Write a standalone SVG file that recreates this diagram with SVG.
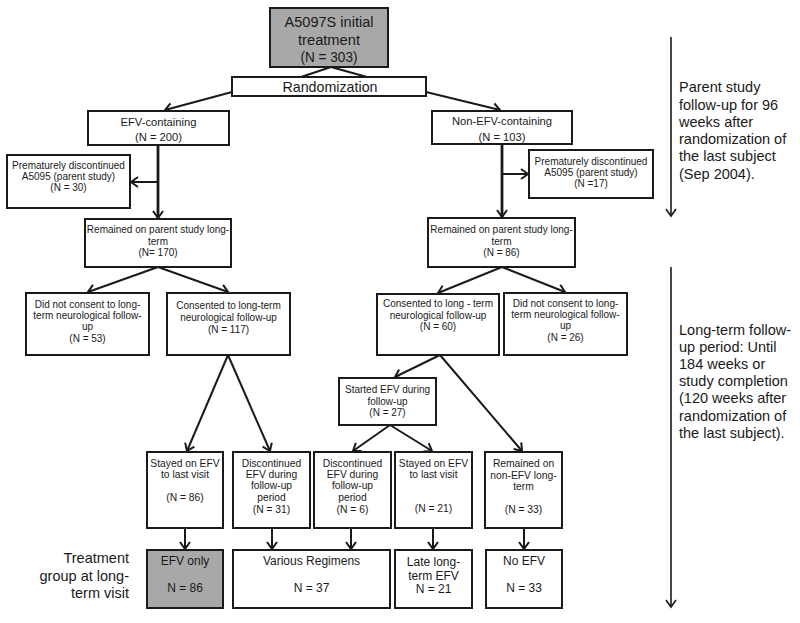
<svg xmlns="http://www.w3.org/2000/svg" width="800" height="623" viewBox="0 0 800 623">
<style>
.box{fill:#fff;stroke:#1a1a1a;stroke-width:2}
.gray{fill:#a8a8a8;stroke:#1a1a1a;stroke-width:2}
text{font-family:"Liberation Sans",Arial,sans-serif;fill:#1a1a1a;text-anchor:middle}
.t10{font-size:10px}
.t105{font-size:10.3px}
.t11{font-size:11.2px}
.t12{font-size:12px}
.t14{font-size:15.5px}
.side{font-size:14.5px;text-anchor:start}
.lab{font-size:14.5px;text-anchor:end}
.c{fill:none;stroke:#1a1a1a;stroke-width:2}
.ct{fill:none;stroke:#1a1a1a;stroke-width:2.8}
.cs{fill:none;stroke:#1a1a1a;stroke-width:1.6}
</style>
<defs>
<marker id="ah" markerUnits="userSpaceOnUse" markerWidth="14" markerHeight="14" viewBox="-10 -7 12 14" refX="0" refY="0" orient="auto">
<path d="M-7,-5 L0,0 L-7,5" fill="none" stroke="#1a1a1a" stroke-width="2"/>
</marker>
<marker id="ahs" markerUnits="userSpaceOnUse" markerWidth="14" markerHeight="14" viewBox="-10 -7 12 14" refX="0" refY="0" orient="auto">
<path d="M-7,-5 L0,0 L-7,5" fill="none" stroke="#1a1a1a" stroke-width="1.6"/>
</marker>
</defs>

<g id="connectors">
<line class="c" x1="331" y1="67" x2="301" y2="77"/>
<line class="c" x1="331" y1="67" x2="367" y2="77"/>
<line class="c" x1="232" y1="92" x2="165" y2="110" marker-end="url(#ah)"/>
<line class="c" x1="426" y1="92" x2="500" y2="110" marker-end="url(#ah)"/>
<line class="ct" x1="158" y1="145" x2="158" y2="218" marker-end="url(#ah)"/>
<line class="c" x1="158" y1="182" x2="131" y2="182" marker-end="url(#ah)"/>
<line class="ct" x1="502" y1="144" x2="502" y2="217" marker-end="url(#ah)"/>
<line class="c" x1="502" y1="174" x2="528" y2="174" marker-end="url(#ah)"/>
<line class="c" x1="158" y1="267" x2="88" y2="292" marker-end="url(#ah)"/>
<line class="c" x1="158" y1="267" x2="228" y2="292" marker-end="url(#ah)"/>
<line class="c" x1="502" y1="267" x2="438" y2="293" marker-end="url(#ah)"/>
<line class="c" x1="502" y1="267" x2="565" y2="292" marker-end="url(#ah)"/>
<line class="c" x1="228" y1="355" x2="187" y2="451" marker-end="url(#ah)"/>
<line class="c" x1="228" y1="355" x2="270" y2="451" marker-end="url(#ah)"/>
<line class="c" x1="440" y1="355" x2="395" y2="377" marker-end="url(#ah)"/>
<line class="c" x1="440" y1="355" x2="522" y2="451" marker-end="url(#ah)"/>
<line class="c" x1="390" y1="425" x2="353" y2="451" marker-end="url(#ah)"/>
<line class="c" x1="390" y1="425" x2="432" y2="451" marker-end="url(#ah)"/>
<line class="c" x1="185" y1="528" x2="185" y2="549" marker-end="url(#ah)"/>
<line class="c" x1="272" y1="528" x2="272" y2="549" marker-end="url(#ah)"/>
<line class="c" x1="351" y1="528" x2="351" y2="549" marker-end="url(#ah)"/>
<line class="c" x1="433" y1="528" x2="433" y2="549" marker-end="url(#ah)"/>
<line class="c" x1="524" y1="528" x2="524" y2="549" marker-end="url(#ah)"/>
<line class="cs" x1="671" y1="37" x2="671" y2="216" marker-end="url(#ahs)"/>
<line class="cs" x1="671" y1="267" x2="671" y2="607" marker-end="url(#ahs)"/>
</g>

<g id="n-initial">
<rect class="gray" x="270" y="8" width="118" height="59"/>
<text class="t14" x="329" y="27" textLength="89" lengthAdjust="spacingAndGlyphs">A5097S initial</text>
<text class="t14" x="329" y="44.5" textLength="62" lengthAdjust="spacingAndGlyphs">treatment</text>
<text class="t14" x="329" y="62" textLength="57" lengthAdjust="spacingAndGlyphs">(N = 303)</text>
</g>
<g id="n-random">
<rect class="box" x="232" y="77" width="194" height="19"/>
<text x="330" y="92" style="font-size:15px" textLength="95" lengthAdjust="spacingAndGlyphs">Randomization</text>
</g>
<g id="n-efv">
<rect class="box" x="88" y="111" width="141" height="34"/>
<text class="t11" x="158.5" y="125.5">EFV-containing</text>
<text class="t11" x="158.5" y="140.5">(N = 200)</text>
</g>
<g id="n-nonefv">
<rect class="box" x="432" y="111" width="140" height="33"/>
<text class="t11" x="502" y="124.5">Non-EFV-containing</text>
<text class="t11" x="502" y="140.5">(N = 103)</text>
</g>
<g id="n-prem-left">
<rect class="box" x="7" y="155" width="123" height="53"/>
<text class="t10" x="68.5" y="168.5">Prematurely discontinued</text>
<text class="t10" x="68.5" y="179.5">A5095 (parent study)</text>
<text class="t10" x="68.5" y="190.5">(N = 30)</text>
</g>
<g id="n-prem-right">
<rect class="box" x="529" y="150" width="124" height="48"/>
<text class="t10" x="591" y="164.5">Prematurely discontinued</text>
<text class="t10" x="591" y="175.5">A5095 (parent study)</text>
<text class="t10" x="591" y="186.5">(N =17)</text>
</g>
<g id="n-rem-left">
<rect class="box" x="85" y="219" width="146" height="48"/>
<text class="t10" x="158" y="232.5">Remained on parent study long-</text>
<text class="t10" x="158" y="244.5">term</text>
<text class="t10" x="158" y="255.5">(N= 170)</text>
</g>
<g id="n-rem-right">
<rect class="box" x="428" y="218" width="147" height="49"/>
<text class="t10" x="501.5" y="232.5">Remained on parent study long-</text>
<text class="t10" x="501.5" y="244.5">term</text>
<text class="t10" x="501.5" y="255.5">(N = 86)</text>
</g>
<g id="n-nocons-left">
<rect class="box" x="26" y="293" width="123" height="62"/>
<text class="t10" x="87.5" y="307.5">Did not consent to long-</text>
<text class="t10" x="87.5" y="318.5">term neurological follow-</text>
<text class="t10" x="87.5" y="329.5">up</text>
<text class="t10" x="87.5" y="341.5">(N = 53)</text>
</g>
<g id="n-cons-left">
<rect class="box" x="167" y="293" width="123" height="62"/>
<text class="t10" x="228.5" y="309">Consented to long-term</text>
<text class="t10" x="228.5" y="320.5">neurological follow-up</text>
<text class="t10" x="228.5" y="332.5">(N = 117)</text>
</g>
<g id="n-cons-right">
<rect class="box" x="377" y="294" width="122" height="61"/>
<text class="t10" x="438" y="306.5">Consented to long - term</text>
<text class="t10" x="438" y="318.5">neurological follow-up</text>
<text class="t10" x="438" y="329.5">(N = 60)</text>
</g>
<g id="n-nocons-right">
<rect class="box" x="504" y="293" width="123" height="62"/>
<text class="t10" x="565.5" y="306.5">Did not consent to long-</text>
<text class="t10" x="565.5" y="317.5">term neurological follow-</text>
<text class="t10" x="565.5" y="328.5">up</text>
<text class="t10" x="565.5" y="340.5">(N = 26)</text>
</g>
<g id="n-started">
<rect class="box" x="339" y="378" width="97" height="47"/>
<text class="t10" x="387.5" y="392.5">Started EFV during</text>
<text class="t10" x="387.5" y="404.5">follow-up</text>
<text class="t10" x="387.5" y="415.5">(N = 27)</text>
</g>
<g id="n-stayed-left">
<rect class="box" x="147" y="452" width="76" height="76"/>
<text class="t105" x="185" y="466.5">Stayed on EFV</text>
<text class="t105" x="185" y="477.5">to last visit</text>
<text class="t105" x="185" y="500.5">(N = 86)</text>
</g>
<g id="n-disc-left">
<rect class="box" x="233" y="452" width="77" height="76"/>
<text class="t105" x="271.5" y="466.5">Discontinued</text>
<text class="t105" x="271.5" y="478">EFV during</text>
<text class="t105" x="271.5" y="489">follow-up</text>
<text class="t105" x="271.5" y="500.5">period</text>
<text class="t105" x="271.5" y="512.5">(N = 31)</text>
</g>
<g id="n-disc-right">
<rect class="box" x="314" y="452" width="77" height="76"/>
<text class="t105" x="352.5" y="466.5">Discontinued</text>
<text class="t105" x="352.5" y="478">EFV during</text>
<text class="t105" x="352.5" y="489">follow-up</text>
<text class="t105" x="352.5" y="500.5">period</text>
<text class="t105" x="352.5" y="512.5">(N = 6)</text>
</g>
<g id="n-stayed-right">
<rect class="box" x="395" y="452" width="77" height="76"/>
<text class="t105" x="433.5" y="466.5">Stayed on EFV</text>
<text class="t105" x="433.5" y="478">to last visit</text>
<text class="t105" x="433.5" y="511.5">(N = 21)</text>
</g>
<g id="n-remained-non">
<rect class="box" x="485" y="452" width="77" height="76"/>
<text class="t105" x="523.5" y="466.5">Remained on</text>
<text class="t105" x="523.5" y="478.5">non-EFV long-</text>
<text class="t105" x="523.5" y="489.5">term</text>
<text class="t105" x="523.5" y="512.5">(N = 33)</text>
</g>
<g id="n-efvonly">
<rect class="gray" x="147" y="550" width="76" height="58"/>
<text class="t12" x="185" y="565">EFV only</text>
<text class="t12" x="185" y="592">N = 86</text>
</g>
<g id="n-various">
<rect class="box" x="233" y="550" width="157" height="58"/>
<text class="t12" x="311.5" y="565">Various Regimens</text>
<text class="t12" x="311.5" y="592">N = 37</text>
</g>
<g id="n-late">
<rect class="box" x="395" y="550" width="77" height="58"/>
<text class="t12" x="433.5" y="566">Late long-</text>
<text class="t12" x="433.5" y="580">term EFV</text>
<text class="t12" x="433.5" y="592.5">N = 21</text>
</g>
<g id="n-noefv">
<rect class="box" x="486" y="550" width="76" height="58"/>
<text class="t12" x="524" y="565">No EFV</text>
<text class="t12" x="524" y="592">N = 33</text>
</g>

<g id="label-treatment">
<text class="lab" x="129" y="563">Treatment</text>
<text class="lab" x="129" y="581">group at long-</text>
<text class="lab" x="129" y="598">term visit</text>
</g>
<g id="label-parent">
<text class="side" x="679" y="92">Parent study</text>
<text class="side" x="679" y="109.5">follow-up for 96</text>
<text class="side" x="679" y="126.5">weeks after</text>
<text class="side" x="679" y="144">randomization of</text>
<text class="side" x="679" y="161">the last subject</text>
<text class="side" x="679" y="178.5">(Sep 2004).</text>
</g>
<g id="label-longterm">
<text class="side" x="679" y="334.5">Long-term follow-</text>
<text class="side" x="679" y="351.5">up period: Until</text>
<text class="side" x="679" y="368.5">184 weeks or</text>
<text class="side" x="679" y="386">study completion</text>
<text class="side" x="679" y="403">(120 weeks after</text>
<text class="side" x="679" y="420.5">randomization of</text>
<text class="side" x="679" y="437.5">the last subject).</text>
</g>
</svg>
